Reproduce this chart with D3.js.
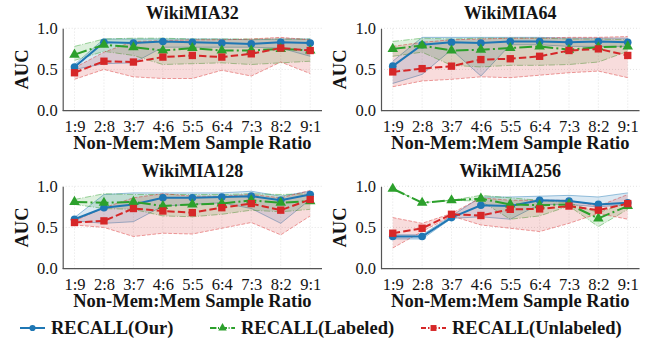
<!DOCTYPE html>
<html>
<head>
<meta charset="utf-8">
<script src="https://cdn.jsdelivr.net/npm/d3@7"></script>
<style>
  body { margin: 0; background: #fff; }
  svg text { font-family: "Liberation Serif", "Times New Roman", Times, "DejaVu Serif", serif; fill: #141414; }
</style>
</head>
<body>
<div class="chart"></div>
<script>
// Categories and tick values
const ratios = ['1:9', '2:8', '3:7', '4:6', '5:5', '6:4', '7:3', '8:2', '9:1']
const yTicks = [0, 0.5, 1.0]
const titles = ['WikiMIA32', 'WikiMIA64', 'WikiMIA128', 'WikiMIA256']
const methodNames = ['RECALL(Our)', 'RECALL(Labeled)', 'RECALL(Unlabeled)']

// WikiMIA32
const w32Our = [0.53, 0.83, 0.82, 0.84, 0.83, 0.82, 0.81, 0.83, 0.82]
const w32OurLo = [0.50, 0.57, 0.58, 0.77, 0.77, 0.77, 0.77, 0.76, 0.66]
const w32OurHi = [0.56, 0.87, 0.87, 0.87, 0.87, 0.87, 0.86, 0.87, 0.87]
const w32Lab = [0.68, 0.80, 0.77, 0.73, 0.76, 0.73, 0.73, 0.75, 0.73]
const w32LabLo = [0.61, 0.72, 0.67, 0.56, 0.57, 0.58, 0.56, 0.58, 0.60]
const w32LabHi = [0.78, 0.87, 0.88, 0.88, 0.87, 0.87, 0.87, 0.87, 0.87]
const w32Unl = [0.46, 0.60, 0.59, 0.65, 0.67, 0.65, 0.69, 0.76, 0.73]
const w32UnlLo = [0.38, 0.50, 0.41, 0.39, 0.39, 0.49, 0.42, 0.59, 0.45]
const w32UnlHi = [0.52, 0.71, 0.84, 0.85, 0.86, 0.86, 0.87, 0.89, 0.86]

// WikiMIA64
const w64Our = [0.54, 0.80, 0.83, 0.82, 0.84, 0.84, 0.83, 0.84, 0.83]
const w64OurLo = [0.33, 0.44, 0.74, 0.42, 0.80, 0.80, 0.78, 0.78, 0.78]
const w64OurHi = [0.60, 0.89, 0.89, 0.89, 0.89, 0.89, 0.88, 0.88, 0.88]
const w64Lab = [0.75, 0.79, 0.73, 0.74, 0.76, 0.78, 0.74, 0.77, 0.78]
const w64LabLo = [0.66, 0.71, 0.55, 0.53, 0.55, 0.55, 0.56, 0.59, 0.72]
const w64LabHi = [0.84, 0.88, 0.87, 0.88, 0.88, 0.88, 0.87, 0.87, 0.86]
const w64Unl = [0.47, 0.51, 0.54, 0.62, 0.63, 0.66, 0.73, 0.75, 0.67]
const w64UnlLo = [0.29, 0.36, 0.38, 0.41, 0.40, 0.43, 0.46, 0.48, 0.40]
const w64UnlHi = [0.78, 0.83, 0.86, 0.87, 0.88, 0.88, 0.89, 0.89, 0.90]

// WikiMIA128
const w128Our = [0.60, 0.74, 0.78, 0.86, 0.86, 0.87, 0.88, 0.83, 0.90]
const w128OurLo = [0.58, 0.55, 0.57, 0.76, 0.78, 0.80, 0.73, 0.55, 0.84]
const w128OurHi = [0.62, 0.90, 0.92, 0.92, 0.92, 0.92, 0.94, 0.88, 0.94]
const w128Lab = [0.81, 0.80, 0.81, 0.76, 0.78, 0.79, 0.83, 0.80, 0.82]
const w128LabLo = [0.78, 0.73, 0.72, 0.64, 0.63, 0.66, 0.71, 0.69, 0.72]
const w128LabHi = [0.84, 0.91, 0.90, 0.90, 0.90, 0.90, 0.91, 0.90, 0.91]
const w128Unl = [0.56, 0.58, 0.73, 0.70, 0.68, 0.74, 0.79, 0.71, 0.84]
const w128UnlLo = [0.53, 0.50, 0.39, 0.43, 0.42, 0.49, 0.56, 0.41, 0.64]
const w128UnlHi = [0.58, 0.74, 0.86, 0.91, 0.88, 0.88, 0.90, 0.86, 0.95]

// WikiMIA256
const w256Our = [0.39, 0.39, 0.62, 0.77, 0.76, 0.83, 0.82, 0.78, 0.80]
const w256OurLo = [0.36, 0.36, 0.61, 0.63, 0.60, 0.78, 0.78, 0.75, 0.78]
const w256OurHi = [0.41, 0.41, 0.64, 0.87, 0.87, 0.88, 0.89, 0.87, 0.92]
const w256Lab = [0.97, 0.80, 0.83, 0.85, 0.78, 0.77, 0.78, 0.61, 0.76]
const w256LabLo = [0.97, 0.80, 0.83, 0.82, 0.60, 0.64, 0.76, 0.51, 0.72]
const w256LabHi = [0.97, 0.80, 0.83, 0.89, 0.86, 0.83, 0.80, 0.68, 0.80]
const w256Unl = [0.43, 0.49, 0.66, 0.645, 0.72, 0.725, 0.76, 0.71, 0.79]
const w256UnlLo = [0.25, 0.45, 0.64, 0.53, 0.49, 0.45, 0.55, 0.67, 0.60]
const w256UnlHi = [0.62, 0.55, 0.67, 0.86, 0.83, 0.83, 0.83, 0.76, 0.90]

const panelData = [
  [[w32Our, w32OurLo, w32OurHi], [w32Lab, w32LabLo, w32LabHi], [w32Unl, w32UnlLo, w32UnlHi]],
  [[w64Our, w64OurLo, w64OurHi], [w64Lab, w64LabLo, w64LabHi], [w64Unl, w64UnlLo, w64UnlHi]],
  [[w128Our, w128OurLo, w128OurHi], [w128Lab, w128LabLo, w128LabHi], [w128Unl, w128UnlLo, w128UnlHi]],
  [[w256Our, w256OurLo, w256OurHi], [w256Lab, w256LabLo, w256LabHi], [w256Unl, w256UnlLo, w256UnlHi]]
]

// Styles per method
const styles = [
  { color: '#1f77b4', dash: null, thinDash: null, symbol: d3.symbolCircle, size: 46 },
  { color: '#2ca02c', dash: '12.8,3.2,2,3.2', thinDash: '6.4,1.6,1,1.6', symbol: d3.symbolTriangle, size: 48 },
  { color: '#d62728', dash: '7.4,3.2', thinDash: '3.7,1.6', symbol: d3.symbolSquare, size: 54 }
]

const serif = '"Liberation Serif", "Times New Roman", Times, "DejaVu Serif", serif'

// Panel boxes
const boxes = [
  { left: 62.7, right: 322, top: 28.3, bottom: 110.6 },
  { left: 381, right: 639.5, top: 28.3, bottom: 110.6 },
  { left: 62.7, right: 322, top: 186.3, bottom: 268.6 },
  { left: 381, right: 639.5, top: 186.3, bottom: 268.6 }
]

const width = 652
const height = 341

const svg = d3.select('.chart')
  .append('svg')
  .attr('width', width)
  .attr('height', height)
  .attr('font-family', serif)

boxes.forEach((b, pi) => {
  const g = svg.append('g')

  const x = d3.scalePoint()
    .domain(ratios)
    .range([b.left, b.right])
    .padding(0.4)

  const y = d3.scaleLinear()
    .domain([0, 1])
    .range([b.bottom, b.top])

  // dotted grid
  g.append('g')
    .selectAll('line')
    .data(ratios)
    .join('line')
    .attr('x1', d => x(d)).attr('x2', d => x(d))
    .attr('y1', y(0)).attr('y2', y(1))
    .attr('stroke', '#dcdcdc')
    .attr('stroke-width', 0.8)
    .attr('stroke-dasharray', '1,2')

  g.append('g')
    .selectAll('line')
    .data(yTicks)
    .join('line')
    .attr('x1', b.left).attr('x2', b.right)
    .attr('y1', d => y(d)).attr('y2', d => y(d))
    .attr('stroke', '#dcdcdc')
    .attr('stroke-width', 0.8)
    .attr('stroke-dasharray', '1,2')

  const series = panelData[pi]

  const area = d3.area()
    .x((d, i) => x(ratios[i]))
    .y0(d => y(d[0]))
    .y1(d => y(d[1]))

  const line = d3.line()
    .x((d, i) => x(ratios[i]))
    .y(d => y(d))

  // bands first
  series.forEach((s, si) => {
    const st = styles[si]
    const band = s[1].map((lo, i) => [lo, s[2][i]])
    g.append('path')
      .attr('d', area(band))
      .attr('fill', st.color)
      .attr('fill-opacity', 0.16)
      .attr('stroke', 'none')

    ;[s[1], s[2]].forEach(edge => {
      g.append('path')
        .attr('d', line(edge))
        .attr('fill', 'none')
        .attr('stroke', st.color)
        .attr('stroke-opacity', 0.45)
        .attr('stroke-width', 1)
        .attr('stroke-dasharray', st.thinDash)
    })
  })

  // mean lines with markers
  series.forEach((s, si) => {
    const st = styles[si]
    g.append('path')
      .attr('d', line(s[0]))
      .attr('fill', 'none')
      .attr('stroke', st.color)
      .attr('stroke-width', 2)
      .attr('stroke-dasharray', st.dash)

    g.append('g')
      .selectAll('path')
      .data(s[0])
      .join('path')
      .attr('transform', (d, i) => `translate(${x(ratios[i])},${y(d)})`)
      .attr('d', d3.symbol().type(st.symbol).size(st.size))
      .attr('fill', st.color)
  })

  // axes
  const xAxis = g.append('g')
    .attr('transform', `translate(0,${b.bottom})`)
    .call(d3.axisBottom(x).tickSize(0).tickPadding(9.5))
    .attr('font-family', serif)
    .attr('font-size', 16.5)
  xAxis.select('.domain').attr('stroke', '#555').attr('stroke-width', 1.2)
    .attr('d', `M${b.left},0H${b.right}`)
  xAxis.selectAll('text').attr('fill', '#141414')

  const yAxis = g.append('g')
    .attr('transform', `translate(${b.left},0)`)
    .call(d3.axisLeft(y).tickValues(yTicks).tickFormat(d3.format('.1f')).tickSize(0).tickPadding(5))
    .attr('font-family', serif)
    .attr('font-size', 16.5)
  yAxis.select('.domain').attr('stroke', '#555').attr('stroke-width', 1.2)
  yAxis.selectAll('text').attr('fill', '#141414')

  // titles and labels
  const cx = (b.left + b.right) / 2
  g.append('text')
    .attr('x', cx)
    .attr('y', b.top - 9)
    .attr('text-anchor', 'middle')
    .attr('font-weight', 'bold')
    .attr('font-size', 18)
    .text(titles[pi])

  g.append('text')
    .attr('x', cx)
    .attr('y', b.bottom + 38)
    .attr('text-anchor', 'middle')
    .attr('font-weight', 'bold')
    .attr('font-size', 18.5)
    .text('Non-Mem:Mem Sample Ratio')

  g.append('text')
    .attr('transform', `translate(${b.left - 35},${(b.top + b.bottom) / 2}) rotate(-90)`)
    .attr('text-anchor', 'middle')
    .attr('font-weight', 'bold')
    .attr('font-size', 18.5)
    .text('AUC')
})

// legend
const legendX = [20, 210, 421]
const legendY = 328
const legend = svg.append('g')

methodNames.forEach((name, i) => {
  const st = styles[i]
  const item = legend.append('g').attr('transform', `translate(${legendX[i]},${legendY})`)
  item.append('line')
    .attr('x1', 0).attr('x2', 25)
    .attr('y1', 0).attr('y2', 0)
    .attr('stroke', st.color)
    .attr('stroke-width', 2)
    .attr('stroke-dasharray', i === 0 ? null : (i === 1 ? '6.4,1.6,1,1.6' : '5,2,1.5,2'))
  item.append('path')
    .attr('transform', 'translate(12.5,0)')
    .attr('d', d3.symbol().type(st.symbol).size(st.size * 0.65))
    .attr('fill', st.color)
  item.append('text')
    .attr('x', 31)
    .attr('y', 6.3)
    .attr('font-weight', 'bold')
    .attr('font-size', 18.5)
    .text(name)
})
</script>
</body>
</html>
